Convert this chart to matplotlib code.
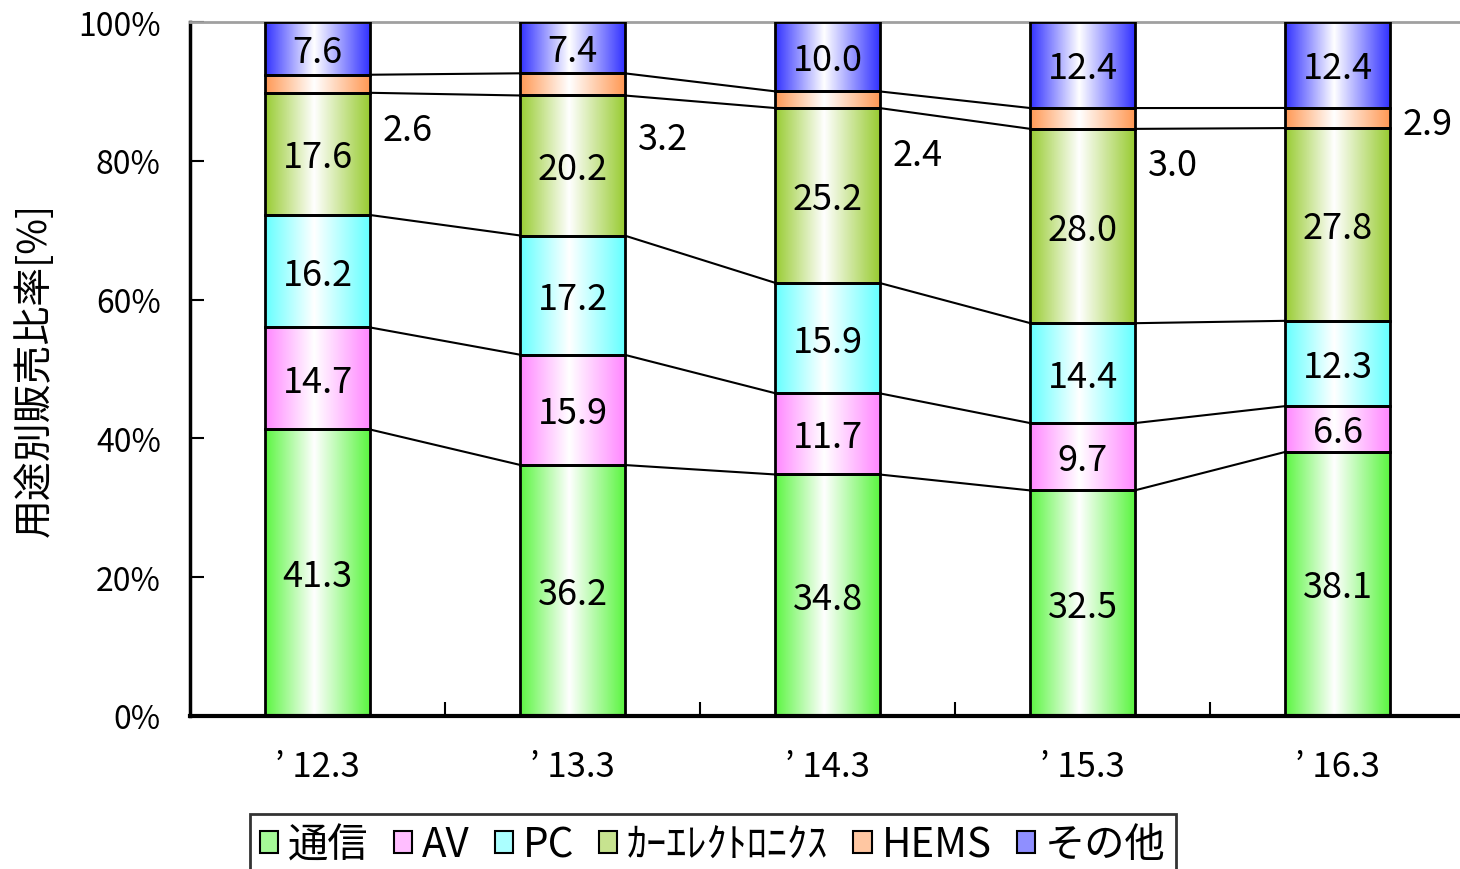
import numpy as np
import matplotlib
matplotlib.use("Agg")
import matplotlib.pyplot as plt
from matplotlib.colors import LinearSegmentedColormap, to_rgb
from matplotlib.patches import Rectangle, Patch

plt.rcParams["font.family"] = ["Noto Sans CJK JP", "DejaVu Sans"]

# --- data ---
years = ["’ 12.3", "’ 13.3", "’ 14.3", "’ 15.3", "’ 16.3"]
series = ["通信", "AV", "PC", "ｶｰｴﾚｸﾄﾛﾆｸｽ", "HEMS", "その他"]
tsushin = [41.3, 36.2, 34.8, 32.5, 38.1]
av = [14.7, 15.9, 11.7, 9.7, 6.6]
pc = [16.2, 17.2, 15.9, 14.4, 12.3]
car = [17.6, 20.2, 25.2, 28.0, 27.8]
hems = [2.6, 3.2, 2.4, 3.0, 2.9]
other = [7.6, 7.4, 10.0, 12.4, 12.4]

colors = ["#5cf542", "#ff88ff", "#66ffff", "#99cc33", "#ff9955", "#3333ff"]
# HEMS labels sit to the right of the bars, shifted down (in % points)
hems_label_shift = [-6.2, -7.3, -7.5, -6.2, -0.3]

values = np.array([tsushin, av, pc, car, hems, other])
pct = values / values.sum(axis=0) * 100
cum = np.vstack([np.zeros(len(years)), np.cumsum(pct, axis=0)])

fig = plt.figure(figsize=(14.6, 8.7), dpi=100)
ax = fig.add_axes([190 / 1460, 1 - 717 / 870, 1275 / 1460, 694 / 870])

width = 0.408
x = np.arange(len(years))
grad = np.linspace(0, 1, 200)[np.newaxis, :]

for s in range(len(series)):
    cmap = LinearSegmentedColormap.from_list(
        "g%d" % s, [(0, colors[s]), (0.47, "white"), (1, colors[s])])
    for i in range(len(years)):
        y0, y1 = cum[s, i], cum[s + 1, i]
        ax.imshow(grad, extent=[x[i] - width / 2, x[i] + width / 2, y0, y1],
                  cmap=cmap, aspect="auto", interpolation="bilinear", zorder=2)
        ax.add_patch(Rectangle((x[i] - width / 2, y0), width, y1 - y0,
                               fill=False, edgecolor="black", linewidth=2, zorder=3))
        if series[s] == "HEMS":
            ax.text(x[i] + 0.255, (y0 + y1) / 2 + hems_label_shift[i] - 0.5,
                    "%.1f" % values[s, i], ha="left", va="center", fontsize=26, zorder=4)
        else:
            ax.text(x[i], (y0 + y1) / 2 - 0.5, "%.1f" % values[s, i],
                    ha="center", va="center", fontsize=26, zorder=4)

# series lines between bars
for lvl in range(1, len(series)):
    for i in range(len(years) - 1):
        ax.plot([x[i] + width / 2, x[i + 1] - width / 2],
                [cum[lvl, i], cum[lvl, i + 1]], color="black", linewidth=1.5, zorder=1)

ax.set_xlim(-0.5, len(years) - 0.5)
ax.set_ylim(0, 100)
ax.set_yticks(np.arange(0, 101, 20))
ax.set_yticklabels(["%d%%" % v for v in range(0, 101, 20)], fontsize=23)
ax.set_xticks(x)
ax.set_xticklabels(years, fontsize=25)
ax.set_xticks(np.arange(0.5, len(years) - 0.5, 1), minor=True)
ax.tick_params(axis="x", which="major", length=0, pad=24)
ax.tick_params(axis="x", which="minor", direction="in", length=10, width=1.5)
ax.tick_params(axis="y", direction="in", length=10, width=1.5, pad=21)
ax.spines["right"].set_visible(False)
ax.spines["top"].set_color("#a0a0a0")
ax.spines["top"].set_linewidth(2)
ax.spines["left"].set_linewidth(2.5)
ax.spines["bottom"].set_linewidth(3)
ax.set_ylabel("用途別販売比率[%]", fontsize=28, labelpad=17)

handles = []
for s in range(len(series)):
    c = np.array(to_rgb(colors[s]))
    handles.append(Patch(facecolor=c * 0.55 + 0.45, edgecolor="black", linewidth=1.5))
leg = fig.legend(handles, series, loc="upper left", ncol=6,
                 bbox_to_anchor=(250 / 1460, 1 - 815 / 870),
                 fontsize=29, frameon=True, fancybox=False, handlelength=0.45,
                 handleheight=0.45, handletextpad=0.25, columnspacing=0.62,
                 borderpad=0.25, borderaxespad=0)
leg.get_frame().set_edgecolor("black")
leg.get_frame().set_linewidth(2)

fig.savefig("out.png", dpi=100)
